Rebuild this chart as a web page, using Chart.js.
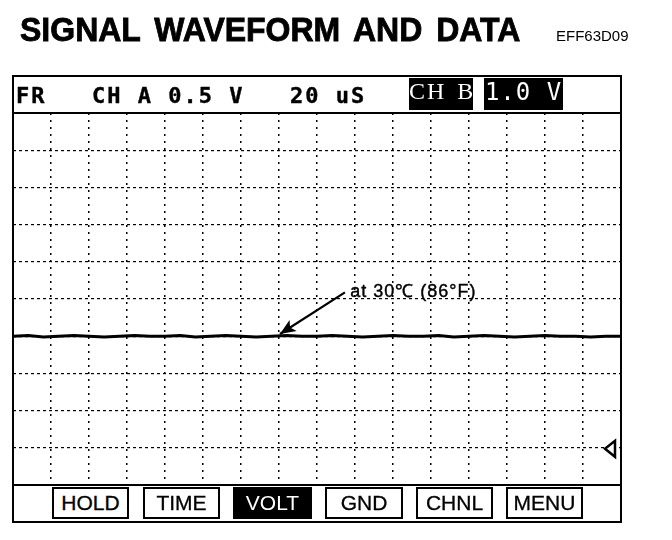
<!DOCTYPE html>
<html>
<head>
<meta charset="utf-8">
<script src="https://cdn.jsdelivr.net/npm/chart.js@4.4.1/dist/chart.umd.min.js"></script>
<style>
  html, body { margin:0; padding:0; background:#fff; }
  #wrap { position:relative; width:672px; height:540px; overflow:hidden; }
  #c { position:absolute; left:0; top:0; }
  .abs { position:absolute; white-space:nowrap; }
  #title { left:20px; top:10px; font:bold 32px "Liberation Sans", Arial, sans-serif; color:#000; word-spacing:5px; -webkit-text-stroke:0.8px #000; transform:scaleY(1.06); transform-origin:left top; }
  #code { left:556px; top:27px; font:15px "Liberation Sans", Arial, sans-serif; color:#000; }
  #frame { left:12px; top:75px; width:606px; height:444px; border:2.5px solid #000; }
  #hdrline { left:12px; top:112px; width:610px; height:2px; background:#000; }
  #botline { left:12px; top:484px; width:610px; height:2px; background:#000; }
  .hd { top:83px; font:bold 22px "DejaVu Sans Mono", monospace; letter-spacing:2px; color:#000; -webkit-text-stroke:0.4px #000; }
  .inv { background:#000; color:#fff; height:32px; top:78px; line-height:33px; text-align:center; }
  .btn { top:487px; height:28px; border:2px solid #000; font:21px "Liberation Sans", Arial, sans-serif; text-align:center; line-height:28px; color:#000; background:#fff; -webkit-text-stroke:0.3px #000; }
  .btn.on { background:#000; color:#fff; font-weight:300; border-color:#000; -webkit-text-stroke:0; }
</style>
</head>
<body>
<div id="wrap">
  <canvas id="c" width="672" height="540"></canvas>
  <div class="abs" id="title">SIGNAL WAVEFORM AND DATA</div>
  <div class="abs" id="code">EFF63D09</div>
  <div class="abs" id="frame"></div>
  <div class="abs" id="hdrline"></div>
  <div class="abs" id="botline"></div>
  <div class="abs hd" style="left:16px;">FR</div>
  <div class="abs hd" style="left:92px;">CH A 0.5 V</div>
  <div class="abs hd" style="left:290px;">20 uS</div>
  <div class="abs inv" style="left:409px;width:64px;font:24px 'Liberation Serif', 'DejaVu Serif', serif;letter-spacing:2px;word-spacing:3px;">CH B</div>
  <div class="abs inv" style="left:484px;width:79px;font:24px 'DejaVu Sans Mono', monospace;letter-spacing:1px;">1.0 V</div>
  <div class="abs btn" style="left:52px;width:73px;">HOLD</div>
  <div class="abs btn" style="left:143px;width:73px;">TIME</div>
  <div class="abs btn on" style="left:233px;width:75px;">VOLT</div>
  <div class="abs btn" style="left:325px;width:74px;">GND</div>
  <div class="abs btn" style="left:416px;width:73px;">CHNL</div>
  <div class="abs btn" style="left:506px;width:73px;">MENU</div>
</div>
<script>
// ---- data (time in µs, 20 µs/div; voltage in V, 0.5 V/div) ----
const timeUs = [0,8,16,24,32,40,48,56,64,72,80,88,96,104,112,120,128,136,144,152,160,168,176,184,192,200,208,216,224,232,240,248,256,264,272,280,288,296,304,312,320];
const voltsA = [-0.50,-0.49,-0.51,-0.50,-0.49,-0.50,-0.51,-0.50,-0.49,-0.50,-0.50,-0.49,-0.51,-0.50,-0.49,-0.50,-0.51,-0.50,-0.49,-0.50,-0.50,-0.49,-0.50,-0.51,-0.50,-0.49,-0.50,-0.50,-0.49,-0.51,-0.50,-0.49,-0.50,-0.51,-0.50,-0.49,-0.50,-0.50,-0.51,-0.50,-0.50];
const annotationText = "at 30\u2103 (86\u00B0F)";
const markerLevel = -2.0;

const pts = timeUs.map((t, i) => ({x: t, y: voltsA[i]}));

const overlay = {
  id: 'overlay',
  afterDatasetsDraw(chart) {
    const {ctx, scales:{x, y}, chartArea} = chart;
    ctx.save();
    // annotation text
    ctx.fillStyle = '#000';
    ctx.font = '18px "Liberation Sans", Arial, sans-serif';
    if ('letterSpacing' in ctx) ctx.letterSpacing = '1px';
    ctx.textBaseline = 'middle';
    ctx.fillText(annotationText, x.getPixelForValue(177.5), y.getPixelForValue(0.09));
    ctx.strokeStyle = '#000'; ctx.lineWidth = 0.4;
    ctx.strokeText(annotationText, x.getPixelForValue(177.5), y.getPixelForValue(0.09));
    if ('letterSpacing' in ctx) ctx.letterSpacing = '0px';
    // arrow
    const x0 = x.getPixelForValue(174.7), y0 = y.getPixelForValue(0.09);
    const x1 = x.getPixelForValue(140.5), y1 = y.getPixelForValue(-0.47);
    ctx.lineWidth = 2.2;
    ctx.beginPath(); ctx.moveTo(x0, y0); ctx.lineTo(x1, y1); ctx.stroke();
    const ang = Math.atan2(y1 - y0, x1 - x0);
    ctx.beginPath();
    ctx.moveTo(x1, y1);
    ctx.lineTo(x1 - 17*Math.cos(ang - 0.4), y1 - 17*Math.sin(ang - 0.4));
    ctx.lineTo(x1 - 12*Math.cos(ang), y1 - 12*Math.sin(ang));
    ctx.lineTo(x1 - 17*Math.cos(ang + 0.4), y1 - 17*Math.sin(ang + 0.4));
    ctx.closePath(); ctx.fill();
    // right-side level marker
    const my = y.getPixelForValue(markerLevel) + 1;
    const mx = chartArea.right - 6;
    ctx.lineWidth = 2.5;
    ctx.fillStyle = '#fff';
    ctx.beginPath();
    ctx.moveTo(mx - 10, my);
    ctx.lineTo(mx, my - 8);
    ctx.lineTo(mx, my + 8);
    ctx.closePath(); ctx.fill(); ctx.stroke();
    ctx.restore();
  }
};

new Chart(document.getElementById('c'), {
  type: 'line',
  data: {
    datasets: [{
      label: 'CH A',
      data: pts,
      borderColor: '#000',
      borderWidth: 3,
      pointRadius: 0,
      tension: 0
    }]
  },
  options: {
    responsive: false,
    animation: false,
    layout: { padding: { left: 13, right: 51, top: 113, bottom: 55 } },
    plugins: { legend: { display: false }, tooltip: { enabled: false } },
    scales: {
      x: {
        type: 'linear', min: 0, max: 320,
        ticks: { display: false, stepSize: 20 },
        grid: { color: '#000', lineWidth: 1.5, drawTicks: false },
        border: { display: false, dash: [2, 5] }
      },
      y: {
        type: 'linear', min: -2.5, max: 2.5,
        ticks: { display: false, stepSize: 0.5 },
        grid: { color: '#000', lineWidth: 1.2, drawTicks: false },
        border: { display: false, dash: [3, 3] }
      }
    }
  },
  plugins: [overlay]
});
</script>
</body>
</html>
